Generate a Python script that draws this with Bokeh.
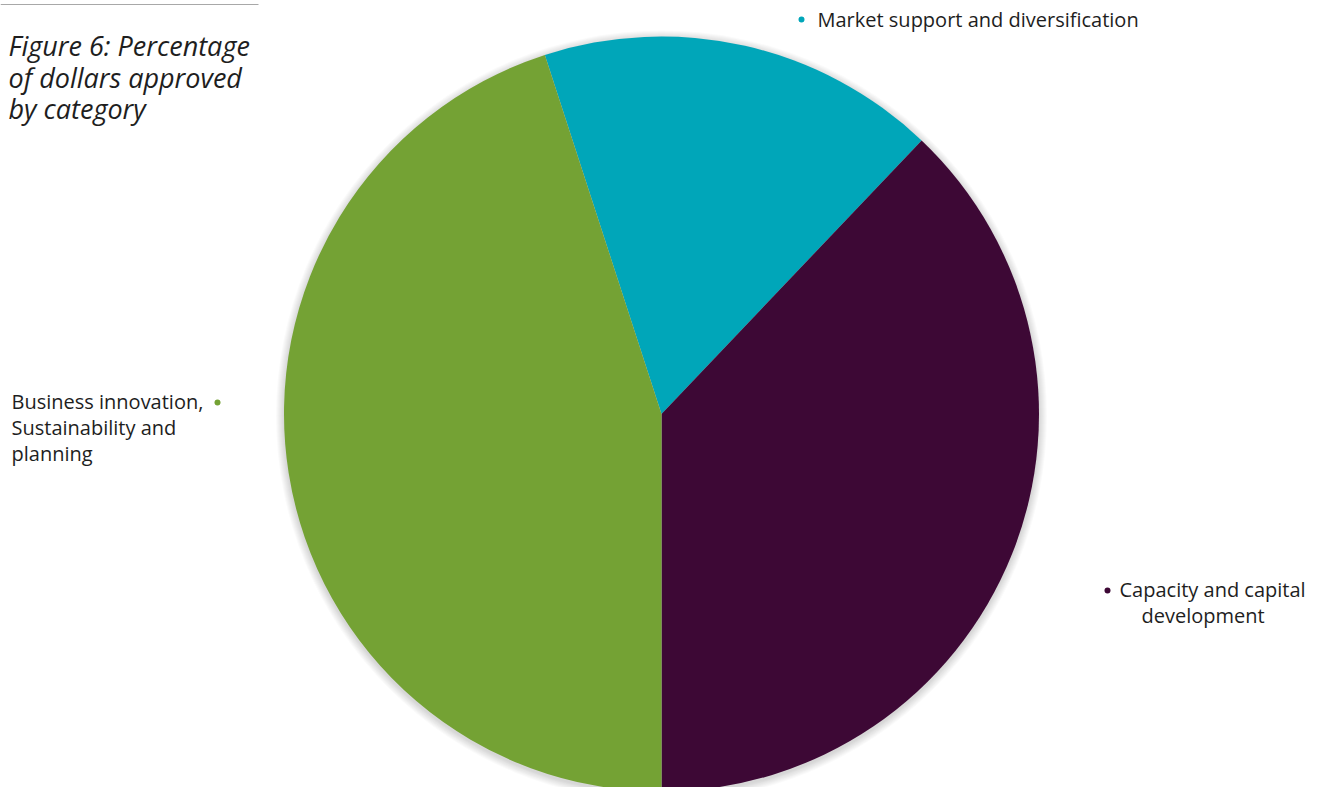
import math
from bokeh.plotting import figure
from bokeh.models import Range1d, ColumnDataSource
from bokeh.core.properties import value
from bokeh.embed import file_html
from bokeh.resources import INLINE

# ---- data ----
categories = ["Market support and diversification",
              "Capacity and capital development",
              "Business innovation, Sustainability and planning"]
shares = [17.1, 37.9, 45.0]          # percent of dollars approved
colors = ["#00A6B9", "#3D0835", "#74A234"]
start_cw_deg = -18.0                  # first slice starts 18 deg left of 12 o'clock

W, H = 1328, 787
p = figure(width=W, height=H, output_backend="svg", toolbar_location=None,
           x_range=Range1d(0, W), y_range=Range1d(0, H), min_border=0)
p.axis.visible = False
p.grid.visible = False
p.outline_line_color = None
p.background_fill_color = "white"
p.border_fill_color = "white"

def sx(x):
    return x

def sy(y):
    return H - y

cx, cy, R = sx(661), sy(413.5), 377.5

# soft shadow
for k in range(1, 9):
    p.circle(x=[cx], y=[cy - 2], radius=R + k, fill_color="black",
             fill_alpha=0.018, line_color=None)

# wedges (clockwise from top)
total = sum(shares)
starts, ends = [], []
acc = start_cw_deg
for s in shares:
    a0 = acc
    a1 = acc + s / total * 360.0
    starts.append(math.radians(90 - a0))
    ends.append(math.radians(90 - a1))
    acc = a1
src = ColumnDataSource(dict(start=starts, end=ends, color=colors,
                            x=[cx] * 3, y=[cy] * 3))
p.wedge(x="x", y="y", radius=R, start_angle="start", end_angle="end",
        direction="clock", fill_color="color", line_color=None, source=src)

# top-left rule
p.segment(x0=[sx(0)], y0=[sy(4)], x1=[sx(258)], y1=[sy(4)],
          line_color="#A8A8A8", line_width=1)

# title
title_lines = ["Figure 6: Percentage", "of dollars approved", "by category"]
p.text(x=[sx(8)] * 3, y=[sy(45), sy(77), sy(108)], text=title_lines,
       text_font=value("Open Sans"), text_font_style="italic",
       text_font_size="27px", text_color="#1E1E1E",
       text_baseline="middle", text_align="left")

# labels
font = value("Open Sans")
fs = "20px"
p.text(x=[sx(817)], y=[sy(19)], text=[categories[0]], text_font=font,
       text_font_size=fs, text_color="#1E1E1E", text_baseline="middle")
p.text(x=[sx(1119), sx(1141)], y=[sy(589), sy(615)],
       text=["Capacity and capital", "development"], text_font=font,
       text_font_size=fs, text_color="#1E1E1E", text_baseline="middle")
p.text(x=[sx(11)] * 3, y=[sy(401), sy(427), sy(453)],
       text=["Business innovation,", "Sustainability and", "planning"],
       text_font=font, text_font_size=fs, text_color="#1E1E1E",
       text_baseline="middle")

# label dots
p.scatter(x=[sx(801), sx(1107), sx(217)], y=[sy(19), sy(590), sy(402)],
          size=6, marker="circle", fill_color=colors, line_color=None)

open("out.html", "w").write(file_html(p, INLINE))
